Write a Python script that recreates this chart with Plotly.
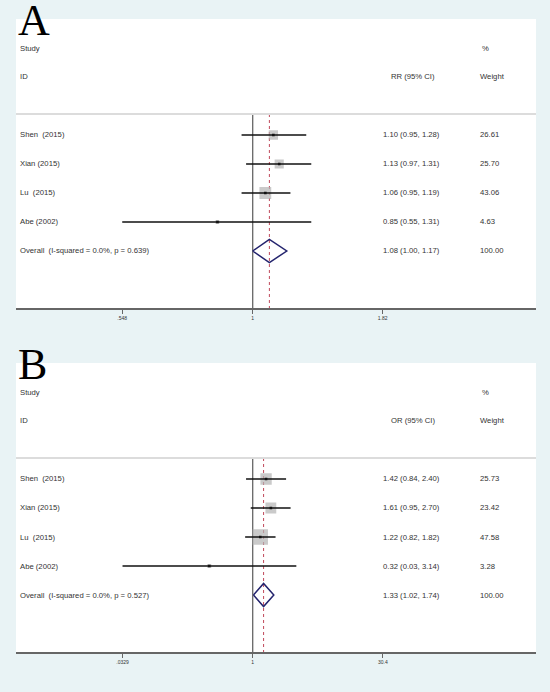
import math
import plotly.graph_objects as go

# ---------------- data ----------------
study_labels = ["Shen  (2015)", "Xian (2015)", "Lu  (2015)", "Abe (2002)"]

# Panel A (RR)
rr_est = [1.10, 1.13, 1.06, 0.85]
rr_lo = [0.95, 0.97, 0.95, 0.548]
rr_hi = [1.28, 1.31, 1.19, 1.31]
rr_weight = [26.61, 25.70, 43.06, 4.63]
rr_overall = [1.08, 1.00, 1.17]          # estimate, lower, upper
rr_het = "I-squared = 0.0%, p = 0.639"
rr_tickvals = [0.548, 1, 1.82]
rr_ticktext = [".548", "1", "1.82"]

# Panel B (OR)
or_est = [1.42, 1.61, 1.22, 0.32]
or_lo = [0.84, 0.95, 0.82, 0.0329]
or_hi = [2.40, 2.70, 1.82, 3.14]
or_weight = [25.73, 23.42, 47.58, 3.28]
or_overall = [1.33, 1.02, 1.74]
or_het = "I-squared = 0.0%, p = 0.527"
or_tickvals = [0.0329, 1, 30.4]
or_ticktext = [".0329", "1", "30.4"]

# ---------------- styling ----------------
W, H = 550, 692
BG = "#e9f3f5"
TXT = "#333333"
FONT = "Liberation Sans, Arial, sans-serif"
FS = 7.7

def px_x(p):
    return p / W

def px_y(p):
    return 1 - p / H

fig = go.Figure()
annotations = []
shapes = []

def panel(letter, measure, est, lo, hi, wts, overall, het, tvals, ttext,
          xname, yname, top_px, xrange_, box_k):
    xa = "x" if xname == "xaxis" else "x2"
    ya = "y" if yname == "yaxis" else "y2"
    rows = list(range(2, 2 + len(est)))
    overall_row = rows[-1] + 1
    sep_row = 1.276
    bottom_row = 7.976

    # null line
    fig.add_trace(go.Scatter(x=[1, 1], y=[sep_row, bottom_row], mode="lines",
                             line=dict(color="#666666", width=1.3),
                             xaxis=xa, yaxis=ya, showlegend=False, hoverinfo="skip"))
    # overall dashed line
    fig.add_trace(go.Scatter(x=[overall[0], overall[0]], y=[sep_row, bottom_row], mode="lines",
                             line=dict(color="#c0485a", width=1, dash="3px,3px"),
                             xaxis=xa, yaxis=ya, showlegend=False, hoverinfo="skip"))
    # weight boxes
    fig.add_trace(go.Scatter(x=est, y=rows, mode="markers",
                             marker=dict(symbol="square", color="#b4b4b4",
                                         size=[box_k * math.sqrt(w) for w in wts],
                                         line=dict(width=0)),
                             xaxis=xa, yaxis=ya, showlegend=False, hoverinfo="skip"))
    # CI lines
    for e, l, h, r in zip(est, lo, hi, rows):
        fig.add_trace(go.Scatter(x=[l, h], y=[r, r], mode="lines",
                                 line=dict(color="#111111", width=1.5),
                                 xaxis=xa, yaxis=ya, showlegend=False, hoverinfo="skip"))
    # point estimates
    fig.add_trace(go.Scatter(x=est, y=rows, mode="markers",
                             marker=dict(symbol="square", color="#111111", size=2.6),
                             xaxis=xa, yaxis=ya, showlegend=False, hoverinfo="skip"))
    # diamond
    dh = 0.4
    fig.add_trace(go.Scatter(x=[overall[1], overall[0], overall[2], overall[0], overall[1]],
                             y=[overall_row, overall_row - dh, overall_row, overall_row + dh, overall_row],
                             mode="lines", fill="toself", fillcolor="rgba(255,255,255,0)",
                             line=dict(color="#24246e", width=1.5),
                             xaxis=xa, yaxis=ya, showlegend=False, hoverinfo="skip"))

    # separator line
    shapes.append(dict(type="line", xref=f"{xa} domain", yref=ya, x0=0, x1=1,
                       y0=sep_row, y1=sep_row, line=dict(color="#dcdcdc", width=2)))

    def txt(x_px, row, s, size=FS):
        annotations.append(dict(xref="paper", yref=ya, x=px_x(x_px), y=row, text=s,
                                xanchor="left", yanchor="middle", showarrow=False,
                                font=dict(family=FONT, size=size, color=TXT)))

    name_x, ci_x, w_x = 18, 381, 478
    txt(name_x, -0.97, "Study")
    txt(name_x, 0.0, "ID")
    txt(ci_x + 8, 0.0, f"{measure} (95% CI)")
    txt(w_x + 1.5, -0.97, "%")
    txt(w_x, 0.0, "Weight")
    for lab, e, l, h, w, r in zip(study_labels, est, lo, hi, wts, rows):
        txt(name_x, r, lab)
        txt(ci_x, r, f"{e:.2f} ({l:.2f}, {h:.2f})")
        txt(w_x, r, f"{w:.2f}")
    txt(name_x, overall_row, f"Overall  ({het})")
    txt(ci_x, overall_row, f"{overall[0]:.2f} ({overall[1]:.2f}, {overall[2]:.2f})")
    txt(w_x, overall_row, f"{100:.2f}")

    annotations.append(dict(xref="paper", yref="paper", x=px_x(17), y=px_y(top_px + 27),
                            text=letter, xanchor="left", yanchor="bottom", showarrow=False,
                            borderpad=0,
                            font=dict(family="Liberation Serif, Times New Roman, serif",
                                      size=44, color="#000000")))

    axis_common = dict(type="log", range=xrange_, tickvals=tvals, ticktext=ttext,
                       ticks="outside", ticklen=4, tickwidth=1.3, tickcolor="#666666",
                       showline=True, linecolor="#666666", linewidth=1.5,
                       showgrid=False, zeroline=False,
                       tickfont=dict(family=FONT, size=5, color=TXT),
                       domain=[px_x(16), px_x(536)], fixedrange=True)
    return axis_common

ax_a = panel("A", "RR", rr_est, rr_lo, rr_hi, rr_weight, rr_overall, rr_het,
             rr_tickvals, rr_ticktext, "xaxis", "yaxis", 19, [-0.4739, 0.5672], 1.8)
ax_b = panel("B", "OR", or_est, or_lo, or_hi, or_weight, or_overall, or_het,
             or_tickvals, or_ticktext, "xaxis2", "yaxis2", 363, [-2.696, 3.2267], 2.23)

yax_common = dict(range=[7.976, -2.0], visible=False, showgrid=False, zeroline=False,
                  fixedrange=True)

fig.update_layout(
    width=W, height=H,
    margin=dict(l=0, r=0, t=0, b=0),
    paper_bgcolor=BG, plot_bgcolor="#ffffff",
    xaxis=dict(**ax_a, anchor="y"),
    yaxis=dict(**yax_common, domain=[px_y(308.3), px_y(19)], anchor="x"),
    xaxis2=dict(**ax_b, anchor="y2"),
    yaxis2=dict(**yax_common, domain=[px_y(652.3), px_y(363)], anchor="x2"),
    annotations=annotations,
    shapes=shapes,
    showlegend=False,
)

fig.write_html(
    "out.html",
    config={"displayModeBar": False},
    post_script="document.body.style.margin='0';document.body.style.background='%s';" % BG,
)
